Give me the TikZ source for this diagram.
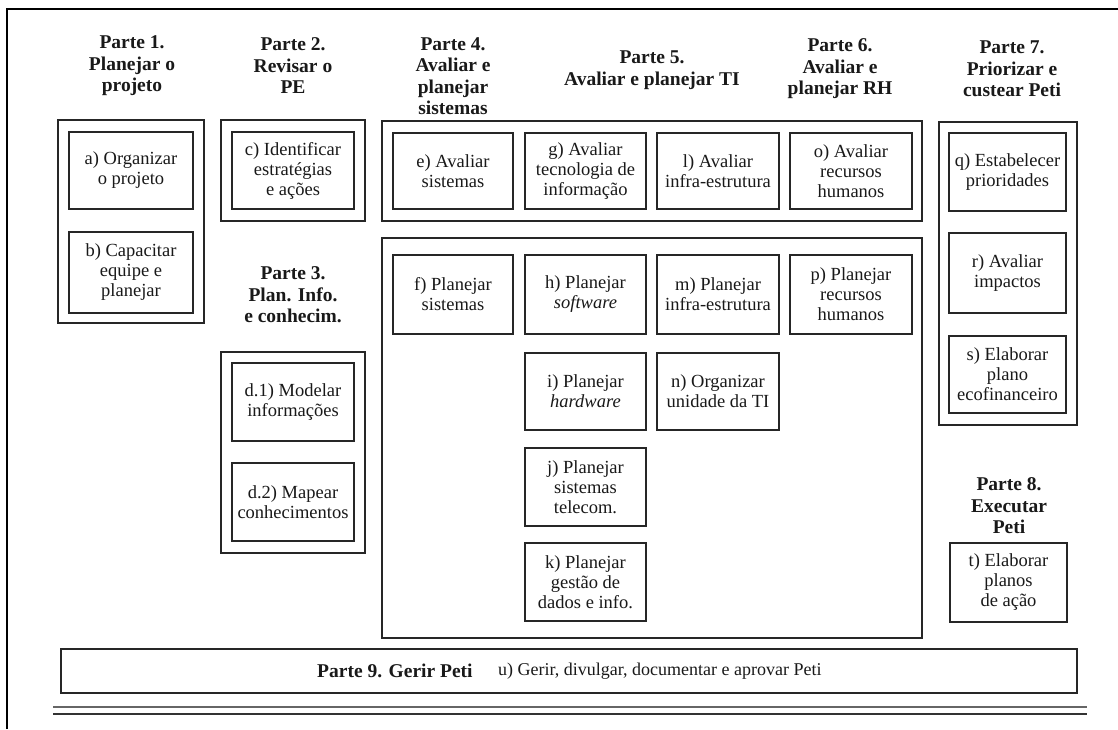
\documentclass[tikz,border=0pt]{standalone}
\usepackage{fontspec}
\setmainfont{Liberation Serif}
\begin{document}
\begin{tikzpicture}[x=1pt,y=-1pt,
  grp/.style={draw=black!85, line width=1.3pt, inner sep=0pt},
  box/.style={draw=black!85, line width=1.3pt, inner sep=0pt, align=center,
    font=\fontsize{18.5}{20}\selectfont, text=black!90},
  head/.style={align=center, font=\fontsize{19.5}{21.5}\selectfont\bfseries, text=black!90},
  body/.style={font=\fontsize{18}{20}\selectfont, text=black!90, inner sep=0pt}]
\useasboundingbox (0,0) rectangle (1118,729);
\fill[white] (0,0) rectangle (1118,729);
% frame
\draw[line width=2.2pt] (7,729) -- (7,9) -- (1118,9);
% bottom double rule
\draw[line width=1.1pt, black!60] (53,707) -- (1087,707);
\draw[line width=2pt, black!80] (53,713.5) -- (1087,713.5);

% headings
\node[head] (h1) at (132,66) {Parte 1.\\Planejar o\\projeto};
\node[head] (h2) at (293,66) {Parte 2.\\Revisar o\\PE};
\node[head] (h4) at (453,76) {Parte 4.\\Avaliar e\\planejar\\sistemas};
\node[head] (h5) at (652,70) {Parte 5.\\Avaliar e planejar TI};
\node[head] (h6) at (840,69) {Parte 6.\\Avaliar e\\planejar RH};
\node[head] (h7) at (1012,69) {Parte 7.\\Priorizar e\\custear Peti};
\node[head] (h3) at (293,295) {Parte 3.\\Plan. Info.\\e conhecim.};
\node[head] (h8) at (1009,506) {Parte 8.\\Executar\\Peti};

% group boxes
\node[grp, minimum width=146, minimum height=203] (p1) at (131,221.5) {};
\node[grp, minimum width=144, minimum height=101] (p2) at (293,170.5) {};
\node[grp, minimum width=144, minimum height=201] (p3) at (293,452.5) {};
\node[grp, minimum width=540, minimum height=100] (top) at (652,171) {};
\node[grp, minimum width=540, minimum height=400] (bot) at (652,438) {};
\node[grp, minimum width=138, minimum height=303] (p7) at (1008,273.5) {};
\node[grp, minimum width=1016, minimum height=44] (p9) at (569,671) {};

% Parte 1
\node[box, minimum width=124, minimum height=77] (a) at (131,170.5) {a) Organizar\\o projeto};
\node[box, minimum width=124, minimum height=81] (b) at (131,272.5) {b) Capacitar\\equipe e\\planejar};
% Parte 2
\node[box, minimum width=122, minimum height=77] (c) at (293,170.5) {c) Identificar\\estratégias\\e ações};
% Parte 3
\node[box, minimum width=122, minimum height=78] (d1) at (293,402) {d.1) Modelar\\informações};
\node[box, minimum width=122, minimum height=78] (d2) at (293,502) {d.2) Mapear\\conhecimentos};
% top row
\node[box, minimum width=120, minimum height=76] (e) at (453,171) {e) Avaliar\\sistemas};
\node[box, minimum width=121, minimum height=76] (g) at (585.5,171) {g) Avaliar\\tecnologia de\\informação};
\node[box, minimum width=122, minimum height=76] (l) at (718,171) {l) Avaliar\\infra-estrutura};
\node[box, minimum width=122, minimum height=76] (o) at (851,171) {o) Avaliar\\recursos\\humanos};
% bottom group
\node[box, minimum width=120, minimum height=79] (f) at (453,294.5) {f) Planejar\\sistemas};
\node[box, minimum width=121, minimum height=79] (h) at (585.5,294.5) {h) Planejar\\\textit{software}};
\node[box, minimum width=122, minimum height=79] (m) at (718,294.5) {m) Planejar\\infra-estrutura};
\node[box, minimum width=122, minimum height=79] (p) at (851,294.5) {p) Planejar\\recursos\\humanos};
\node[box, minimum width=121, minimum height=77] (i) at (585.5,391.5) {i) Planejar\\\textit{hardware}};
\node[box, minimum width=122, minimum height=77] (n) at (718,391.5) {n) Organizar\\unidade da TI};
\node[box, minimum width=121, minimum height=78] (j) at (585.5,487) {j) Planejar\\sistemas\\telecom.};
\node[box, minimum width=121, minimum height=78] (k) at (585.5,582) {k) Planejar\\gestão de\\dados e info.};
% Parte 7
\node[box, minimum width=117, minimum height=78] (q) at (1007.5,172) {q) Estabelecer\\prioridades};
\node[box, minimum width=117, minimum height=80] (r) at (1007.5,273) {r) Avaliar\\impactos};
\node[box, minimum width=117, minimum height=77] (s) at (1007.5,374.5) {s) Elaborar\\plano\\ecofinanceiro};
% Parte 8
\node[box, minimum width=117, minimum height=79] (t) at (1008.5,582.5) {t) Elaborar\\planos\\de ação};
% Parte 9
\node[body, anchor=west, font=\fontsize{19.5}{21}\selectfont\bfseries] (h9) at (317,671) {Parte 9. Gerir Peti};
\node[body, anchor=west] (u) at (498,671) {u) Gerir, divulgar, documentar e aprovar Peti};
\end{tikzpicture}
\end{document}
